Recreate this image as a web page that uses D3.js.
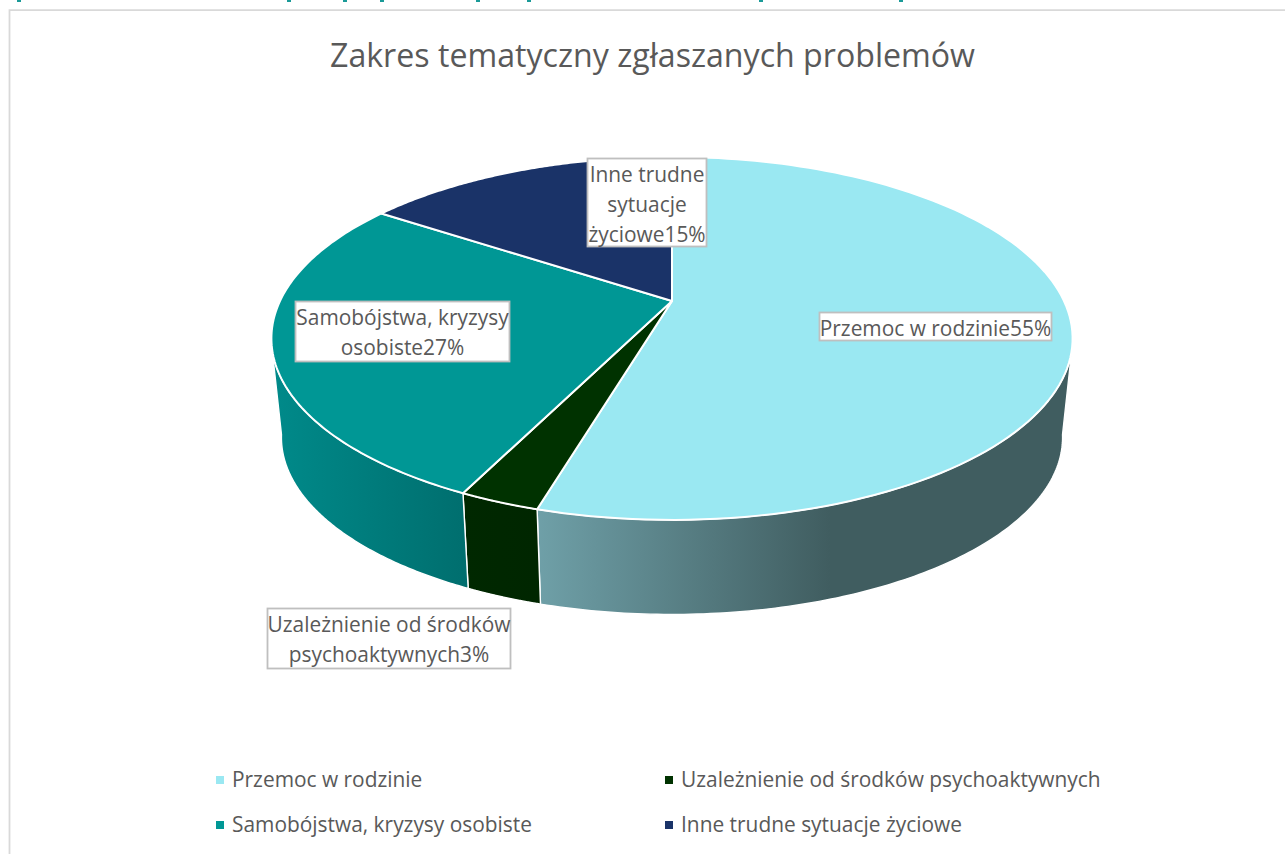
<!DOCTYPE html>
<html>
<head>
<meta charset="utf-8">
<script src="https://cdn.jsdelivr.net/npm/d3@7"></script>
<style>
  html, body { margin: 0; padding: 0; background: #fff; overflow: hidden; }
  text { font-family: "Open Sans", sans-serif; fill: #595959; }
</style>
</head>
<body>
<div id="chart"></div>
<script>
const categories = ["Przemoc w rodzinie", "Uzależnienie od środków psychoaktywnych", "Samobójstwa, kryzysy osobiste", "Inne trudne sytuacje życiowe"];
// slice sizes as measured off the boundaries in the picture
const shares = [54.45, 2.7, 27.35, 15.5];
// percentages as printed on the labels
const printedPercents = [55, 3, 27, 15];
const topColors = ["#9ae8f2", "#003200", "#009795", "#1a3368"];
const wallFrom = ["#6fa0a8", "#002800", "#008a8a", "#1a3368"];
const wallTo = ["#405d60", "#002600", "#006e6e", "#1a3368"];
const labelLines = [["Przemoc w rodzinie"], ["Uzależnienie od środków", "psychoaktywnych"], ["Samobójstwa, kryzysy", "osobiste"], ["Inne trudne", "sytuacje", "życiowe"]];
// descenders of the cropped line above the chart
const croppedTicks = [17, 287, 343, 380, 476, 527, 759, 899];

const W = 1285, H = 854;
const svg = d3.select("#chart").append("svg").attr("width", W).attr("height", H).style("display", "block");
const defs = svg.append("defs");

// page scrap and chart frame
svg.selectAll("rect.crop").data(croppedTicks).enter().append("rect")
  .attr("class", "crop").attr("x", d => d).attr("y", 0)
  .attr("width", 4).attr("height", 2).attr("fill", "#1a9a98");
svg.append("path").attr("d", `M9.5,${H}V10.2H${W}`)
  .attr("fill", "none").attr("stroke", "#d9d9d9").attr("stroke-width", 1.8);

svg.append("text").attr("x", 652.5).attr("y", 67).attr("text-anchor", "middle")
  .attr("font-size", 33).attr("textLength", 645).attr("lengthAdjust", "spacingAndGlyphs")
  .text("Zakres tematyczny zgłaszanych problemów");

// perspective view of the pie disc
const K = 0.206, A = 173.8, B = 392, CX = 672, CY = 301;
const LOW_F = 0.975, LOW_CY = 401;
const project = (a, f, cy) => {
  const X = Math.sin(a), Y = -Math.cos(a), s = 1 / (1 - K * Y);
  return [CX + f * B * X * s, cy + f * A * Y * s];
};
const upper = a => project(a, 1, CY);
const lower = a => project(a, LOW_F, LOW_CY);
const rad = d3.scaleLinear().domain([0, 360]).range([0, 2 * Math.PI]);
const sample = (a0, a1) => d3.range(0, 121).map(i => a0 + (a1 - a0) * i / 120);
const line = d3.line();

const pie = d3.pie().sort(null).value(d => d)(shares);

// the side is only visible on the near half of the rim
const rimStart = rad(105), rimEnd = rad(255), lowStart = rad(101), lowEnd = rad(259);

const walls = pie.filter(d => d.endAngle > rimStart && d.startAngle < rimEnd);
walls.forEach(d => {
  const a0 = Math.max(d.startAngle, rimStart), a1 = Math.min(d.endAngle, rimEnd);
  const b0 = d.startAngle < rimStart ? lowStart : a0;
  const b1 = d.endAngle > rimEnd ? lowEnd : a1;
  const pts = sample(a0, a1).map(upper).concat(sample(b1, b0).map(lower));
  const xs = d3.extent(pts, p => p[0]);
  const id = "wall" + d.index;
  // the first wall fades to dark at 830, then stays dark to the far right
  const g = defs.append("linearGradient").attr("id", id)
    .attr("gradientUnits", "userSpaceOnUse")
    .attr("x1", xs[0]).attr("x2", d.index === 0 ? 830 : xs[1]).attr("y1", 0).attr("y2", 0);
  g.append("stop").attr("offset", 0).attr("stop-color", wallFrom[d.index]);
  g.append("stop").attr("offset", 1).attr("stop-color", wallTo[d.index]);
  svg.append("path").attr("d", line(pts) + "Z")
    .attr("fill", `url(#${id})`).attr("stroke", "#fff").attr("stroke-width", 1.4).attr("stroke-linejoin", "round");
});

// top face
svg.selectAll("path.slice").data(pie).enter().append("path")
  .attr("class", "slice")
  .attr("d", d => line([[CX, CY]].concat(sample(d.startAngle, d.endAngle).map(upper))) + "Z")
  .attr("fill", (d, i) => topColors[i])
  .attr("stroke", "#fff").attr("stroke-width", 2).attr("stroke-linejoin", "round");

// data labels
const labelBoxes = [[819.5, 312.5, 232, 28], [267.5, 608.5, 243, 60], [295.5, 301.5, 214, 60], [587.5, 158.5, 119, 88]];
const LINE_H = 30;
const labels = svg.selectAll("g.label").data(categories).enter().append("g").attr("class", "label");
labels.append("rect")
  .attr("x", (d, i) => labelBoxes[i][0]).attr("y", (d, i) => labelBoxes[i][1])
  .attr("width", (d, i) => labelBoxes[i][2]).attr("height", (d, i) => labelBoxes[i][3])
  .attr("fill", "#fff").attr("stroke", "#bfbfbf").attr("stroke-width", 1.8);
labels.each(function(d, i) {
  const b = labelBoxes[i], lines = labelLines[i];
  d3.select(this).selectAll("text").data(lines).enter().append("text")
    .attr("x", b[0] + b[2] / 2)
    .attr("y", (t, j) => b[1] + 23 + j * LINE_H)
    .attr("text-anchor", "middle").attr("font-size", 20.9)
    .text((t, j) => j === lines.length - 1 ? t + printedPercents[i] + "%" : t);
});

// legend
const legendX = d3.scaleOrdinal().domain([0, 1]).range([216, 665]);
const legendY = d3.scaleOrdinal().domain([0, 1]).range([780, 825]);
const legend = svg.selectAll("g.legend").data(categories).enter().append("g").attr("class", "legend")
  .attr("transform", (d, i) => `translate(${legendX(i % 2)},${legendY(i >> 1)})`);
legend.append("rect").attr("y", -4).attr("width", 8).attr("height", 8).attr("fill", (d, i) => topColors[i]);
legend.append("text").attr("x", 16).attr("y", 7).attr("font-size", 20.9).text(d => d);
</script>
</body>
</html>
